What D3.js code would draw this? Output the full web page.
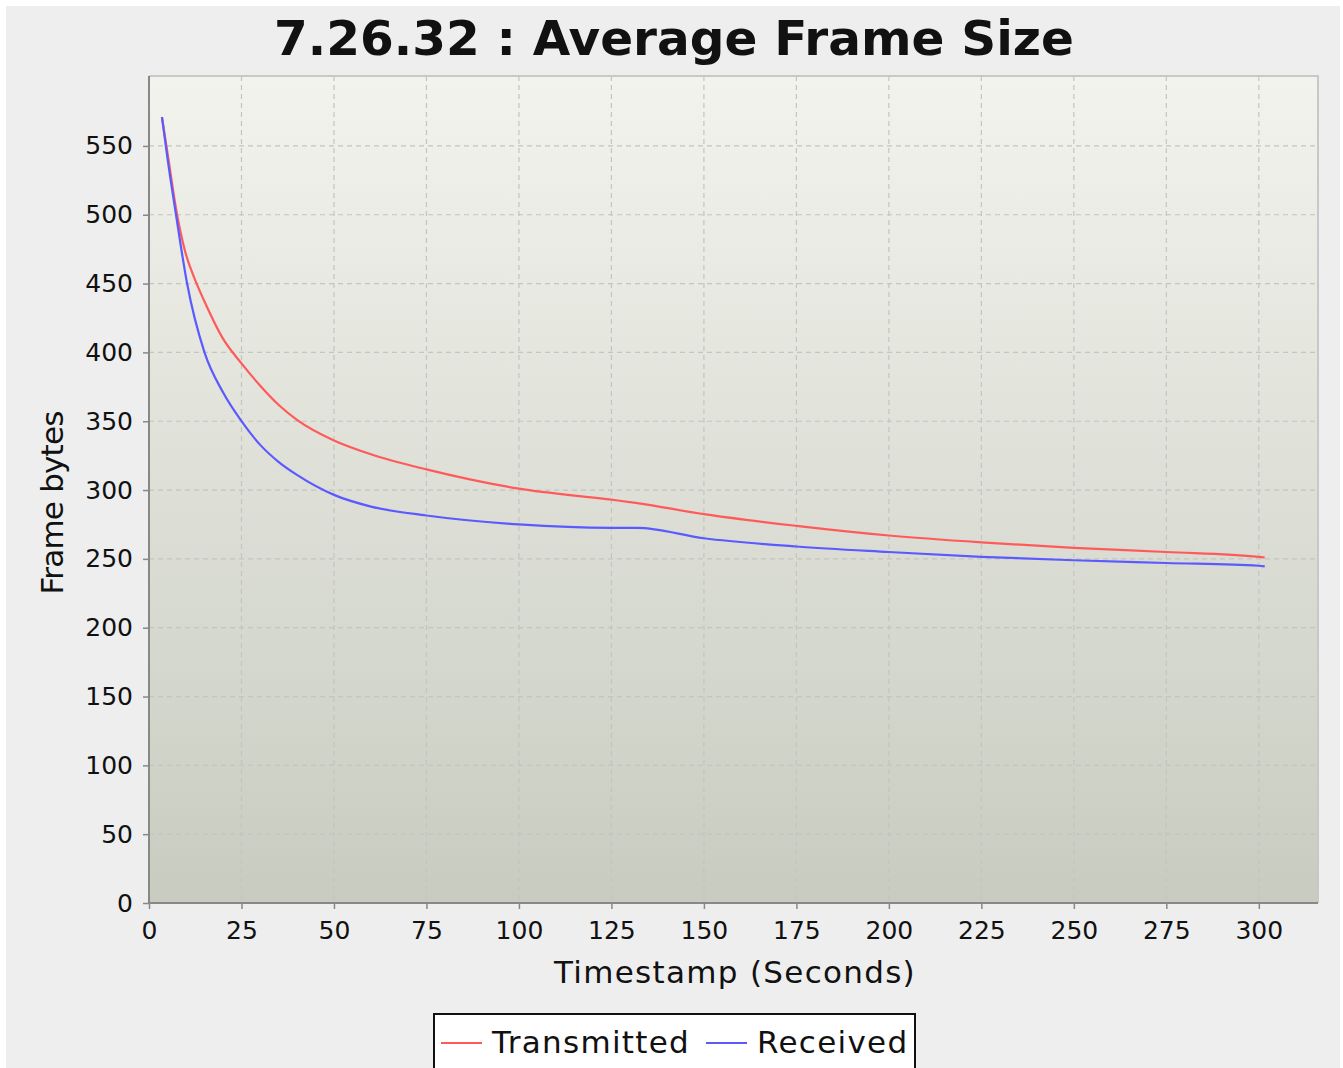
<!DOCTYPE html>
<html>
<head>
<meta charset="utf-8">
<script src="https://cdn.jsdelivr.net/npm/d3@7"></script>
<style>
  body { margin: 0; background: #ffffff; }
  svg text { font-family: "DejaVu Sans", sans-serif; fill: #111; }
</style>
</head>
<body>
<svg id="chart" width="1343" height="1068"></svg>
<script>
// values
const seriesNames = ["Transmitted", "Received"];
const seriesColors = ["#ff5a5a", "#5a5aff"];

const txTime = [3.5, 5, 7.6, 9.7, 12.4, 15, 20, 25, 30, 35, 40, 50, 60, 75, 100, 125, 132, 150, 175, 200, 225, 250, 275, 300, 301.6];
const txBytes = [571, 545, 500, 474, 453, 437, 410, 392, 376, 362, 351, 336, 326, 315, 301, 293, 290.5, 282.5, 274, 267, 262, 258, 255, 251.5, 251];

const rxTime = [3.5, 5, 7.3, 10.3, 15, 20, 25, 30, 35, 40, 50, 60, 75, 100, 125, 132, 150, 175, 200, 225, 250, 275, 300, 301.6];
const rxBytes = [571, 541, 500, 450, 400, 371, 350, 333, 320.5, 311, 296.5, 288, 281.5, 275, 272.5, 272.5, 265, 259, 255, 251.5, 249, 247, 245, 244.5];

const xTicks = [0, 25, 50, 75, 100, 125, 150, 175, 200, 225, 250, 275, 300];
const yTicks = [0, 50, 100, 150, 200, 250, 300, 350, 400, 450, 500, 550];

const chartTitle = "7.26.32 : Average Frame Size";
const xLabel = "Timestamp (Seconds)";
const yLabel = "Frame bytes";

function drawChart() {
    const svg = d3.select("#chart");
    const plot = { left: 149, top: 76, right: 1318, bottom: 903 };

    // panel background
    svg.append("rect")
        .attr("x", 6).attr("y", 6)
        .attr("width", 1334).attr("height", 1062)
        .attr("fill", "#eeeeee");

    const x = d3.scaleLinear().domain([0, 316]).range([plot.left, plot.right]);
    const y = d3.scaleLinear().domain([0, 600.8]).range([plot.bottom, plot.top]);

    // plot gradient
    const defs = svg.append("defs");
    const grad = defs.append("linearGradient")
        .attr("id", "plotGrad")
        .attr("x1", 0).attr("y1", 0).attr("x2", 0).attr("y2", 1);
    grad.append("stop").attr("offset", "0%").attr("stop-color", "#f3f3ed");
    grad.append("stop").attr("offset", "100%").attr("stop-color", "#c8ccc0");

    svg.append("rect")
        .attr("x", plot.left).attr("y", plot.top)
        .attr("width", plot.right - plot.left)
        .attr("height", plot.bottom - plot.top)
        .attr("fill", "url(#plotGrad)");

    // outline shadow on top/right
    svg.append("path")
        .attr("d", `M${plot.left},${plot.top}H${plot.right}V${plot.bottom}`)
        .attr("fill", "none")
        .attr("stroke", "#c8c8c8")
        .attr("stroke-width", 2);

    // gridlines
    const grid = svg.append("g").attr("stroke", "#c4c4c0").attr("stroke-width", 1.2)
        .attr("stroke-dasharray", "5,4");
    grid.selectAll(".vgrid")
        .data(xTicks.filter(d => d > 0))
        .join("line")
        .attr("class", "vgrid")
        .attr("x1", d => x(d)).attr("x2", d => x(d))
        .attr("y1", plot.top).attr("y2", plot.bottom);
    grid.selectAll(".hgrid")
        .data(yTicks.filter(d => d > 0))
        .join("line")
        .attr("class", "hgrid")
        .attr("x1", plot.left).attr("x2", plot.right)
        .attr("y1", d => y(d)).attr("y2", d => y(d));

    // axes
    const xAxis = d3.axisBottom(x).tickValues(xTicks).tickSize(6).tickPadding(12);
    const yAxis = d3.axisLeft(y).tickValues(yTicks).tickSize(6).tickPadding(10);

    const gx = svg.append("g")
        .attr("transform", `translate(0,${plot.bottom})`)
        .call(xAxis);
    const gy = svg.append("g")
        .attr("transform", `translate(${plot.left},0)`)
        .call(yAxis);

    [gx, gy].forEach(g => {
        g.select(".domain").attr("stroke", "#888").attr("stroke-width", 2);
        g.selectAll(".tick line").attr("stroke", "#888").attr("stroke-width", 1.5);
        g.selectAll(".tick text")
            .attr("font-size", 25)
            .attr("font-family", "DejaVu Sans, sans-serif")
            .attr("fill", "#111");
    });
    gx.select(".domain").attr("d", `M${plot.left},0H${plot.right}`);
    gy.select(".domain").attr("d", `M0,${plot.bottom}V${plot.top}`);

    // lines
    const line = d3.line()
        .x(d => x(d[0]))
        .y(d => y(d[1]))
        .curve(d3.curveMonotoneX);

    const series = [
        d3.zip(txTime, txBytes),
        d3.zip(rxTime, rxBytes)
    ];
    svg.selectAll(".series")
        .data(series)
        .join("path")
        .attr("class", "series")
        .attr("fill", "none")
        .attr("stroke", (d, i) => seriesColors[i])
        .attr("stroke-width", 2.2)
        .attr("d", line);

    // title
    svg.append("text")
        .attr("x", 674).attr("y", 55)
        .attr("text-anchor", "middle")
        .attr("font-size", 48.5)
        .attr("font-weight", "bold")
        .text(chartTitle);

    svg.append("text")
        .attr("x", 735)
        .attr("y", 983)
        .attr("text-anchor", "middle")
        .attr("font-size", 31)
        .attr("letter-spacing", 1.3)
        .text(xLabel);

    svg.append("text")
        .attr("transform", `translate(63,503) rotate(-90)`)
        .attr("text-anchor", "middle")
        .attr("font-size", 31)
        .attr("letter-spacing", -0.8)
        .text(yLabel);

    // legend
    const legend = svg.append("g");
    legend.append("rect")
        .attr("x", 434).attr("y", 1014)
        .attr("width", 481).attr("height", 70)
        .attr("fill", "#ffffff")
        .attr("stroke", "#111")
        .attr("stroke-width", 2);
    const legendX = [441, 706];
    seriesNames.forEach((name, i) => {
        legend.append("line")
            .attr("x1", legendX[i]).attr("x2", legendX[i] + 41)
            .attr("y1", 1043).attr("y2", 1043)
            .attr("stroke", seriesColors[i])
            .attr("stroke-width", 2.2);
        legend.append("text")
            .attr("x", legendX[i] + 51)
            .attr("y", 1053)
            .attr("font-size", 31)
            .attr("letter-spacing", 1.3)
            .text(name);
    });
}

drawChart();
</script>
</body>
</html>
